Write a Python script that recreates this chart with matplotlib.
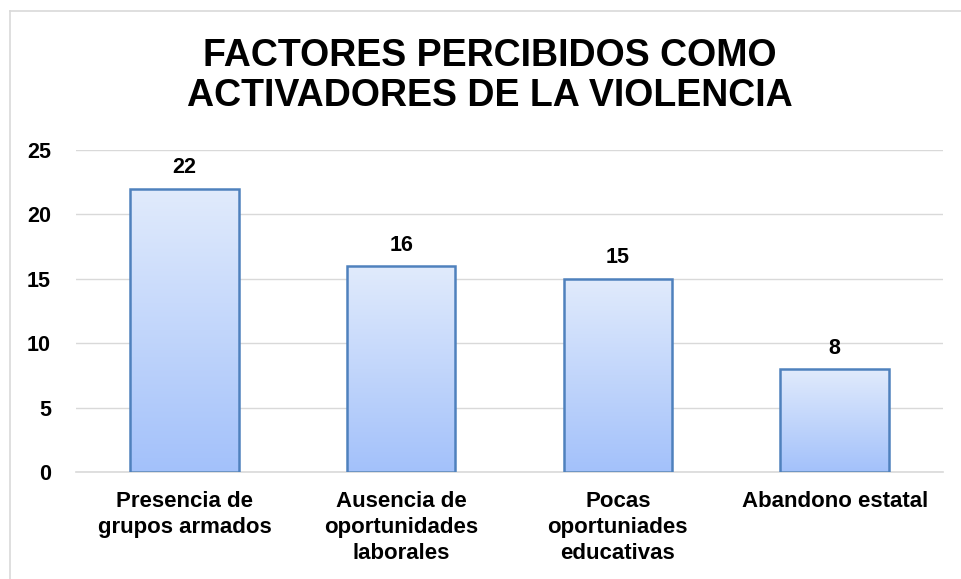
import numpy as np
import matplotlib.pyplot as plt
from matplotlib.colors import LinearSegmentedColormap
from matplotlib.patches import Rectangle

plt.rcParams['font.family'] = ['Liberation Sans', 'DejaVu Sans']

categories = ["Presencia de\ngrupos armados", "Ausencia de\noportunidades\nlaborales",
              "Pocas\noportuniades\neducativas", "Abandono estatal"]
values = [22, 16, 15, 8]
yticks = [0, 5, 10, 15, 20, 25]
title = "FACTORES PERCIBIDOS COMO\nACTIVADORES DE LA VIOLENCIA"

fig = plt.figure(figsize=(9.61, 5.79), dpi=100)
ax = fig.add_axes([76 / 961, 1 - 472 / 579, (943 - 76) / 961, (472 - 150) / 579])

# chart border (only left and top visible in the reference)
fig.add_artist(plt.Line2D([10 / 961, 10 / 961], [0, 1 - 11 / 579], color='#D9D9D9', lw=1.2))
fig.add_artist(plt.Line2D([10 / 961, 1], [1 - 11 / 579, 1 - 11 / 579], color='#D9D9D9', lw=1.2))

x = np.arange(len(categories))
bars = ax.bar(x, values, width=0.5, color='none', edgecolor='#4F81BD', linewidth=1.8, zorder=3)

cmap = LinearSegmentedColormap.from_list('grad', ['#A3C1FA', '#E1EBFC'])
grad = np.linspace(0, 1, 256).reshape(-1, 1)
for b in bars:
    x0, w, h = b.get_x(), b.get_width(), b.get_height()
    im = ax.imshow(grad, cmap=cmap, aspect='auto', origin='lower',
                   extent=[x0, x0 + w, 0, h], zorder=2)
    im.set_clip_path(Rectangle((x0, 0), w, h, transform=ax.transData))
    ax.text(x0 + w / 2, h + 0.8, str(int(h)), ha='center', va='bottom',
            fontsize=15.5, fontweight='bold', color='black')

ax.set_xlim(-0.5, len(categories) - 0.5)
ax.set_ylim(0, 25)
ax.set_yticks(yticks)
ax.set_yticklabels([str(t) for t in yticks], fontsize=15.5, fontweight='bold')
ax.set_xticks(x)
ax.set_xticklabels(categories, fontsize=16, fontweight='bold', linespacing=1.3)
ax.tick_params(axis='both', length=0)
ax.tick_params(axis='y', pad=18)
ax.tick_params(axis='x', pad=14)
ax.grid(axis='y', color='#D9D9D9', linewidth=1.0, zorder=0)
ax.set_axisbelow(True)
for s in ['top', 'right', 'left']:
    ax.spines[s].set_visible(False)
ax.spines['bottom'].set_color('#D9D9D9')
ax.spines['bottom'].set_linewidth(1.2)

fig.text(490 / 961, 1 - 76 / 579, title, ha='center', va='center',
         fontsize=27, fontweight='bold', linespacing=1.12)

fig.savefig('out.png', dpi=100, facecolor='white')
